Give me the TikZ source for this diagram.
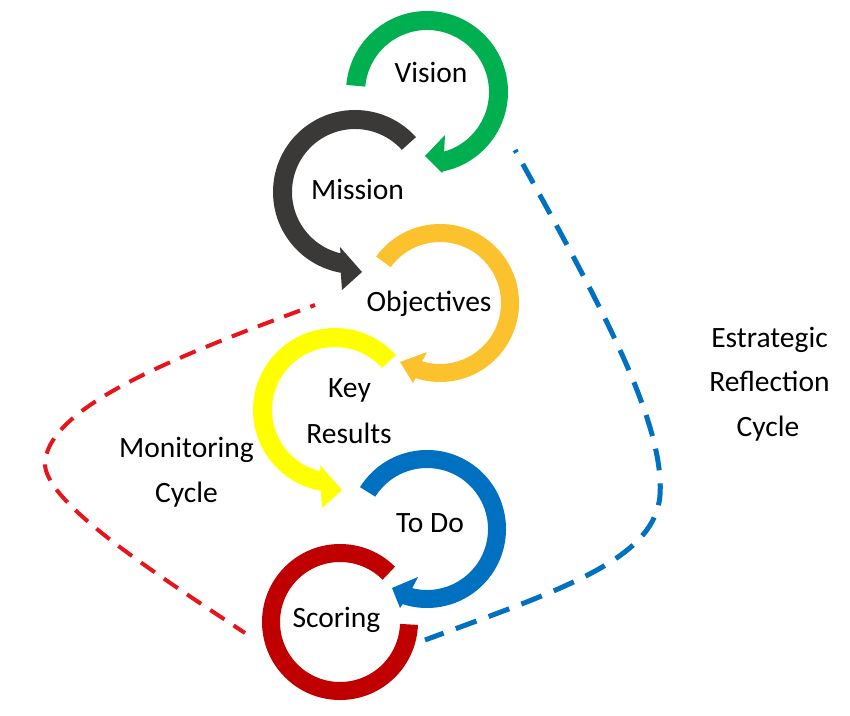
\documentclass[tikz,border=0pt]{standalone}
\usepackage{fontspec}
\setmainfont{Carlito}
\usetikzlibrary{calc}
\definecolor{cgreen}{HTML}{00B050}
\definecolor{cgray}{HTML}{3B3838}
\definecolor{cgold}{HTML}{FBC22D}
\definecolor{cyellow}{HTML}{FFFF00}
\definecolor{cblue}{HTML}{0070C0}
\definecolor{cdred}{HTML}{C00000}
\definecolor{cred}{HTML}{E8141B}
\begin{document}
\begin{tikzpicture}[x=1pt,y=1pt,
  lbl/.style={font=\fontsize{29.5}{35}\selectfont, inner sep=0pt, anchor=base, text=black},
  bluedash/.style={cblue, line width=5pt, dash pattern=on 22pt off 13pt, dash phase=19pt},
  reddash/.style={cred, line width=4pt, dash pattern=on 17pt off 11pt, dash phase=12pt}]
\useasboundingbox (0,0) rectangle (850,715);
\fill[white] (0,0) rectangle (850,715);

% Vision ring
\coordinate (gc) at (427,623);
\fill[cgreen] ($(gc)+(175:81)$) arc[start angle=175,end angle=-78.6,radius=81]
  -- (442,542) -- (425,559) -- (445,580)
  -- ($(gc)+(-74:62)$) arc[start angle=-74,end angle=175,radius=62] -- cycle;

% Mission ring
\coordinate (mc) at (355,523);
\fill[cgray] ($(mc)+(42:82)$) arc[start angle=42,end angle=260,radius=82]
  -- ($(mc)+(-13,-98)$) -- ($(mc)+(7,-80)$) -- ($(mc)+(-15,-55)$)
  -- ($(mc)+(256.7:63)$) arc[start angle=256.7,end angle=42,radius=63] -- cycle;

% Objectives ring
\coordinate (oc) at (440,412);
\fill[cgold] ($(oc)+(144:79)$) arc[start angle=144,end angle=-108,radius=79]
  -- (413,332) -- (400,353) -- (427,363)
  -- ($(oc)+(-107:61)$) arc[start angle=-107,end angle=144,radius=61] -- cycle;

% Key Results ring
\coordinate (kc) at (335,305);
\fill[cyellow] ($(kc)+(42:82)$) arc[start angle=42,end angle=260,radius=82]
  -- ($(kc)+(-13,-98)$) -- ($(kc)+(7,-80)$) -- ($(kc)+(-15,-55)$)
  -- ($(kc)+(256.7:63)$) arc[start angle=256.7,end angle=42,radius=63] -- cycle;

% To Do ring
\coordinate (tc) at (427,186);
\fill[cblue] ($(tc)+(148:79)$) arc[start angle=148,end angle=-108,radius=79]
  -- (400,107) -- (392,127) -- (418,138)
  -- ($(tc)+(-104:61)$) arc[start angle=-104,end angle=148,radius=61] -- cycle;

% Scoring ring
\coordinate (sc) at (340,93);
\draw[cdred, line width=18pt] ($(sc)+(45:69)$) arc[start angle=45,end angle=358,radius=69];

% labels
\node[lbl] (vision) at (431,632) {Vision};
\node[lbl] (mission) at (357.5,515) {Mission};
\node[lbl] (objectives) at (429,403) {Objectives};
\node[lbl] (key) at (349.5,317) {Key};
\node[lbl] (results) at (349,272) {Results};
\node[lbl] (todo) at (430,183) {To Do};
\node[lbl] (scoring) at (336.5,88) {Scoring};
\node[lbl] (mon1) at (186.5,258) {Monitoring};
\node[lbl] (mon2) at (186.5,213) {Cycle};
\node[lbl] (est1) at (769.5,367) {Estrategic};
\node[lbl] (est2) at (769.5,323) {Reflection};
\node[lbl] (est3) at (768,278) {Cycle};

% dashed cycles
\coordinate (bs) at (515,565);
\coordinate (bm) at (660,220);
\coordinate (be) at (425,75);
\draw[bluedash] (bs) .. controls (595,420) and (665,295) .. (bm)
  .. controls (655,155) and (560,125) .. (be);

\coordinate (rs) at (315,410);
\coordinate (rm) at (45,253);
\coordinate (re) at (245,82);
\draw[reddash] (rs) .. controls (180,360) and (50,310) .. (rm)
  .. controls (42,215) and (150,145) .. (re);
\end{tikzpicture}
\end{document}
